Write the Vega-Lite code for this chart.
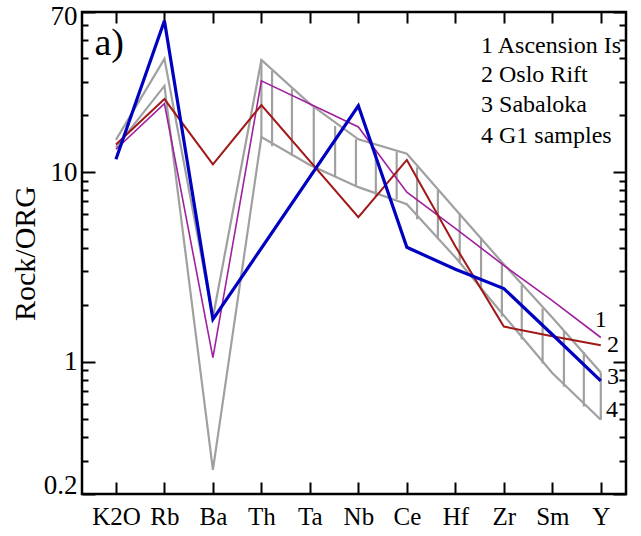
{
  "$schema": "https://vega.github.io/schema/vega-lite/v6.json",
  "width": 544,
  "height": 482,
  "autosize": {"type": "none"},
  "padding": {"left": 82, "top": 12, "right": 14, "bottom": 43},
  "background": "white",
  "config": {
    "view": {"stroke": "black", "strokeWidth": 2.5},
    "axis": {
      "domain": false,
      "grid": false,
      "labelFont": "Liberation Serif",
      "titleFont": "Liberation Serif",
      "labelColor": "black",
      "tickColor": "black",
      "titleColor": "black",
      "titleFontWeight": "normal",
      "tickWidth": 2,
      "zindex": 1
    }
  },
  "datasets": {
    "hatch": [
      {"idx": 3.0, "hi": 39.1, "lo": 15.3},
      {"idx": 3.22, "hi": 34.2, "lo": 13.7},
      {"idx": 3.63, "hi": 27.5, "lo": 12.2},
      {"idx": 4.08, "hi": 22.1, "lo": 10.6},
      {"idx": 4.52, "hi": 17.5, "lo": 9.41},
      {"idx": 4.95, "hi": 14.9, "lo": 8.33},
      {"idx": 5.36, "hi": 12.9, "lo": 7.46},
      {"idx": 5.79, "hi": 12.8, "lo": 7.2},
      {"idx": 6.21, "hi": 10.6, "lo": 5.64},
      {"idx": 6.64, "hi": 8.03, "lo": 4.42},
      {"idx": 7.09, "hi": 6.07, "lo": 3.34},
      {"idx": 7.53, "hi": 4.53, "lo": 2.4},
      {"idx": 7.96, "hi": 3.3, "lo": 1.73},
      {"idx": 8.37, "hi": 2.53, "lo": 1.31},
      {"idx": 8.8, "hi": 1.91, "lo": 0.976},
      {"idx": 9.24, "hi": 1.46, "lo": 0.737},
      {"idx": 9.65, "hi": 1.12, "lo": 0.578},
      {"idx": 10.0, "hi": 0.875, "lo": 0.493}
    ],
    "lines": [
      {"s": "G1 upper", "idx": 0, "v": 14.8},
      {"s": "G1 upper", "idx": 1, "v": 39.6},
      {"s": "G1 upper", "idx": 2, "v": 1.71},
      {"s": "G1 upper", "idx": 3, "v": 39.1},
      {"s": "G1 upper", "idx": 4, "v": 22.9},
      {"s": "G1 upper", "idx": 5, "v": 14.9},
      {"s": "G1 upper", "idx": 6, "v": 12.5},
      {"s": "G1 upper", "idx": 7, "v": 6.37},
      {"s": "G1 upper", "idx": 8, "v": 3.26},
      {"s": "G1 upper", "idx": 9, "v": 1.71},
      {"s": "G1 upper", "idx": 10, "v": 0.875},
      {"s": "G1 lower", "idx": 0, "v": 13.5},
      {"s": "G1 lower", "idx": 1, "v": 28.5},
      {"s": "G1 lower", "idx": 2, "v": 0.268},
      {"s": "G1 lower", "idx": 3, "v": 15.3},
      {"s": "G1 lower", "idx": 4, "v": 10.9},
      {"s": "G1 lower", "idx": 5, "v": 8.33},
      {"s": "G1 lower", "idx": 6, "v": 6.77},
      {"s": "G1 lower", "idx": 7, "v": 3.55},
      {"s": "G1 lower", "idx": 8, "v": 1.75},
      {"s": "G1 lower", "idx": 9, "v": 0.87},
      {"s": "G1 lower", "idx": 10, "v": 0.493},
      {"s": "Ascension Is", "idx": 0, "v": 13.2},
      {"s": "Ascension Is", "idx": 1, "v": 23.0},
      {"s": "Ascension Is", "idx": 2, "v": 1.05},
      {"s": "Ascension Is", "idx": 3, "v": 30.3},
      {"s": "Ascension Is", "idx": 5, "v": 17.3},
      {"s": "Ascension Is", "idx": 6, "v": 7.84},
      {"s": "Ascension Is", "idx": 7, "v": 5.05},
      {"s": "Ascension Is", "idx": 8, "v": 3.22},
      {"s": "Ascension Is", "idx": 9, "v": 2.1},
      {"s": "Ascension Is", "idx": 10, "v": 1.34},
      {"s": "Oslo Rift", "idx": 0, "v": 14.0},
      {"s": "Oslo Rift", "idx": 1, "v": 24.3},
      {"s": "Oslo Rift", "idx": 2, "v": 11.0},
      {"s": "Oslo Rift", "idx": 3, "v": 22.6},
      {"s": "Oslo Rift", "idx": 5, "v": 5.78},
      {"s": "Oslo Rift", "idx": 6, "v": 11.6},
      {"s": "Oslo Rift", "idx": 7, "v": 4.06},
      {"s": "Oslo Rift", "idx": 8, "v": 1.53},
      {"s": "Oslo Rift", "idx": 9, "v": 1.36},
      {"s": "Oslo Rift", "idx": 10, "v": 1.22},
      {"s": "Sabaloka", "idx": 0, "v": 11.7},
      {"s": "Sabaloka", "idx": 1, "v": 63},
      {"s": "Sabaloka", "idx": 2, "v": 1.67},
      {"s": "Sabaloka", "idx": 5, "v": 22.4},
      {"s": "Sabaloka", "idx": 6, "v": 4.01},
      {"s": "Sabaloka", "idx": 7, "v": 3.07},
      {"s": "Sabaloka", "idx": 8, "v": 2.43},
      {"s": "Sabaloka", "idx": 9, "v": 1.39},
      {"s": "Sabaloka", "idx": 10, "v": 0.79}
    ]
  },
  "resolve": {"axis": {"x": "independent", "y": "independent"}},
  "layer": [
    {
      "data": {"name": "hatch"},
      "mark": {"type": "rule", "color": "#a0a0a0", "strokeWidth": 2.2},
      "encoding": {
        "x": {
          "field": "idx", "type": "quantitative",
          "scale": {"domain": [-0.7, 10.52], "nice": false, "zero": false},
          "axis": {
            "orient": "bottom", "title": null,
            "values": [0, 1, 2, 3, 4, 5, 6, 7, 8, 9, 10],
            "labelExpr": "['K2O','Rb','Ba','Th','Ta','Nb','Ce','Hf','Zr','Sm','Y'][datum.value]",
            "labelFontSize": 25, "offset": -12, "tickSize": 12, "labelPadding": 10
          }
        },
        "y": {
          "field": "hi", "type": "quantitative",
          "scale": {"type": "log", "domain": [0.2, 70], "nice": false},
          "axis": {
            "orient": "left", "title": "Rock/ORG", "titleFontSize": 30, "titlePadding": 3,
            "values": [0.2, 0.3, 0.4, 0.5, 0.6, 0.7, 0.8, 0.9, 1, 2, 3, 4, 5, 6, 7, 8, 9, 10, 20, 30, 40, 50, 60, 70],
            "labelExpr": "datum.value==0.2?'0.2':datum.value==1?'1':datum.value==10?'10':datum.value==70?'70':''",
            "labelFontSize": 27,
            "labelOffset": {"condition": [{"test": "datum.value==0.2", "value": -9}, {"test": "datum.value==70", "value": 4}], "value": 0},
            "offset": -13,
            "tickSize": 13,
            "tickDash": {"condition": {"test": "datum.value==0.2||datum.value==1||datum.value==10||datum.value==70", "value": [20, 0]}, "value": [0, 7, 6]},
            "labelPadding": 5
          }
        },
        "y2": {"field": "lo"}
      }
    },
    {
      "data": {"name": "lines"},
      "transform": [{"filter": "indexof(datum.s, 'G1') == 0"}],
      "mark": {"type": "line", "color": "#a0a0a0", "strokeWidth": 2.2},
      "encoding": {
        "x": {
          "field": "idx", "type": "quantitative",
          "axis": {"orient": "top", "title": null, "labels": false, "values": [0, 1, 2, 3, 4, 5, 6, 7, 8, 9, 10], "offset": -11, "tickSize": 11}
        },
        "y": {
          "field": "v", "type": "quantitative",
          "axis": {
            "orient": "right", "title": null, "labels": false,
            "values": [0.2, 0.3, 0.4, 0.5, 0.6, 0.7, 0.8, 0.9, 1, 2, 3, 4, 5, 6, 7, 8, 9, 10, 20, 30, 40, 50, 60, 70],
            "offset": -13,
            "tickSize": 13,
            "tickDash": {"condition": {"test": "datum.value==0.2||datum.value==1||datum.value==10||datum.value==70", "value": [20, 0]}, "value": [0, 6, 7]}
          }
        },
        "detail": {"field": "s", "type": "nominal"}
      }
    },
    {
      "data": {"name": "lines"},
      "transform": [{"filter": "datum.s == 'Ascension Is'"}],
      "mark": {"type": "line", "color": "#a020a0", "strokeWidth": 1.6},
      "encoding": {
        "x": {"field": "idx", "type": "quantitative", "axis": null},
        "y": {"field": "v", "type": "quantitative", "axis": null}
      }
    },
    {
      "data": {"name": "lines"},
      "transform": [{"filter": "datum.s == 'Oslo Rift'"}],
      "mark": {"type": "line", "color": "#a01818", "strokeWidth": 2},
      "encoding": {
        "x": {"field": "idx", "type": "quantitative", "axis": null},
        "y": {"field": "v", "type": "quantitative", "axis": null}
      }
    },
    {
      "data": {"name": "lines"},
      "transform": [{"filter": "datum.s == 'Sabaloka'"}],
      "mark": {"type": "line", "color": "#0000c0", "strokeWidth": 3.2},
      "encoding": {
        "x": {"field": "idx", "type": "quantitative", "axis": null},
        "y": {"field": "v", "type": "quantitative", "axis": null}
      }
    },
    {
      "data": {"values": [
        {"t": "1 Ascension Is", "idx": 7.53, "v": 46.4},
        {"t": "2 Oslo Rift", "idx": 7.53, "v": 32.6},
        {"t": "3 Sabaloka", "idx": 7.53, "v": 22.6},
        {"t": "4 G1 samples", "idx": 7.53, "v": 15.5}
      ]},
      "mark": {"type": "text", "align": "left", "baseline": "middle", "font": "Liberation Serif", "fontSize": 24, "color": "black"},
      "encoding": {
        "x": {"field": "idx", "type": "quantitative", "axis": null},
        "y": {"field": "v", "type": "quantitative", "axis": null},
        "text": {"field": "t"}
      }
    },
    {
      "data": {"values": [
        {"t": "1", "idx": 10.0, "v": 1.65},
        {"t": "2", "idx": 10.25, "v": 1.22},
        {"t": "3", "idx": 10.25, "v": 0.833},
        {"t": "4", "idx": 10.23, "v": 0.557}
      ]},
      "mark": {"type": "text", "align": "center", "baseline": "middle", "font": "Liberation Serif", "fontSize": 24, "color": "black"},
      "encoding": {
        "x": {"field": "idx", "type": "quantitative", "axis": null},
        "y": {"field": "v", "type": "quantitative", "axis": null},
        "text": {"field": "t"}
      }
    },
    {
      "data": {"values": [{"t": "a)", "idx": -0.14, "v": 47.6}]},
      "mark": {"type": "text", "align": "center", "baseline": "middle", "font": "Liberation Serif", "fontSize": 38, "color": "black"},
      "encoding": {
        "x": {"field": "idx", "type": "quantitative", "axis": null},
        "y": {"field": "v", "type": "quantitative", "axis": null},
        "text": {"field": "t"}
      }
    }
  ]
}
